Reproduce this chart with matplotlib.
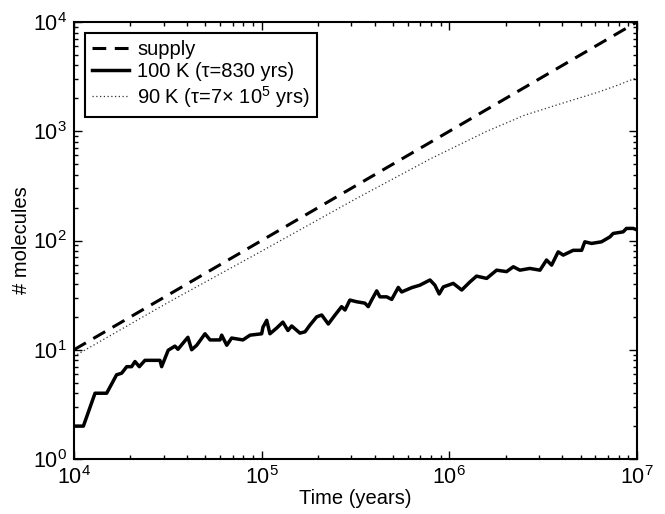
import numpy as np
import matplotlib
matplotlib.use("Agg")
import matplotlib.pyplot as plt

# -------------------------
# Data (log10 of time in years)
# -------------------------

supply_t = [1e4, 1e7]
supply_n = [10, 1e4]

logt_90k = [4.0, 4.5, 5.0, 5.5, 5.9, 6.2, 6.4, 6.6, 6.8, 6.9, 7.0]
n_90k = [8.7, 27, 80, 240, 560, 1000, 1400, 1800, 2300, 2650, 3100]

logt_100k = [
    4.0, 4.05, 4.112, 4.174, 4.227, 4.254, 4.281, 4.307, 4.325, 4.348,
    4.378, 4.458, 4.467, 4.502, 4.538, 4.554, 4.581, 4.607, 4.627, 4.654,
    4.698, 4.725, 4.778, 4.787, 4.814, 4.840, 4.900, 4.938, 5.000, 5.007,
    5.027, 5.044, 5.080, 5.113, 5.14, 5.16, 5.204, 5.231, 5.257, 5.293,
    5.320, 5.355, 5.391, 5.426, 5.444, 5.470, 5.506, 5.550, 5.568, 5.586,
    5.613, 5.630, 5.666, 5.693, 5.728, 5.746, 5.799, 5.843, 5.897, 5.923,
    5.946, 5.968, 6.021, 6.066, 6.110, 6.145, 6.199, 6.252, 6.305, 6.341,
    6.376, 6.429, 6.483, 6.518, 6.545, 6.580, 6.607, 6.660, 6.705, 6.722,
    6.758, 6.811, 6.856, 6.873, 6.926, 6.944, 6.980, 7.0,
]
n_100k = [
    2, 2, 4, 4, 5.9, 6.1, 7.0, 7.0, 7.8, 7.0,
    8.0, 8.0, 7.0, 9.9, 10.8, 10.1, 11.5, 13, 10, 11,
    14, 12.3, 12.3, 13.6, 11, 12.8, 12.3, 13.6, 14, 16.1,
    18.6, 14, 15.8, 17.9, 15, 16.5, 14.2, 14.6, 16.8, 20,
    20.8, 17.2, 20.8, 24.8, 23.1, 28.5, 27.5, 26.7, 24.8, 28.5,
    34.6, 30.5, 30.5, 28.9, 37.2, 33.8, 37, 39, 43.5, 39,
    32.4, 37.6, 40.5, 35.2, 41.8, 47.2, 45, 53.5, 51.9, 57.5,
    53.5, 55.5, 53.5, 66.3, 59.5, 78.7, 73.5, 81.3, 81.3, 97.3,
    94, 97.3, 108, 116, 120, 129, 129, 125,
]

# -------------------------
# Style
# -------------------------

plt.rcParams["font.family"] = ["Liberation Sans", "DejaVu Sans"]
plt.rcParams["mathtext.fontset"] = "custom"
plt.rcParams["mathtext.rm"] = "Liberation Sans"
plt.rcParams["mathtext.it"] = "Liberation Sans:italic"
plt.rcParams["mathtext.default"] = "regular"

fig = plt.figure(figsize=(6.65, 5.14), dpi=100)
ax = fig.add_axes([74 / 665, 1 - 459 / 514, 563 / 665, 437 / 514])

ax.plot(supply_t, supply_n, color="black", lw=2.2, linestyle=(0, (4.5, 2.8)),
        label="supply")
ax.plot(10 ** np.array(logt_100k), n_100k, color="black", lw=2.5,
        label="100 K (\u03c4=830 yrs)")
ax.plot(10 ** np.array(logt_90k), n_90k, color="#333333", lw=0.9,
        linestyle=(0, (1, 2)), label="90 K (\u03c4=7$\\times$ 10$^5$ yrs)")

ax.set_xscale("log")
ax.set_yscale("log")
ax.set_xlim(1e4, 1e7)
ax.set_ylim(1e0, 1e4)

ax.tick_params(which="both", direction="in", top=True, right=True,
               labelsize=15.5, width=1)
ax.tick_params(which="major", length=6, pad=5)
ax.tick_params(which="minor", length=3)
for sp in ax.spines.values():
    sp.set_linewidth(1.5)

ax.set_xlabel("Time (years)", fontsize=14.5, labelpad=0)
ax.set_ylabel("# molecules", fontsize=14.5)
ax.yaxis.set_label_coords(-0.076, 0.5)

leg = ax.legend(loc="upper left", fontsize=14.5, handlelength=1.85,
                handletextpad=0.4, borderpad=0.35, labelspacing=0.14,
                borderaxespad=0.55, fancybox=False, framealpha=1)
leg.get_frame().set_edgecolor("black")
leg.get_frame().set_linewidth(1.5)

plt.savefig("out.png", dpi=100)
